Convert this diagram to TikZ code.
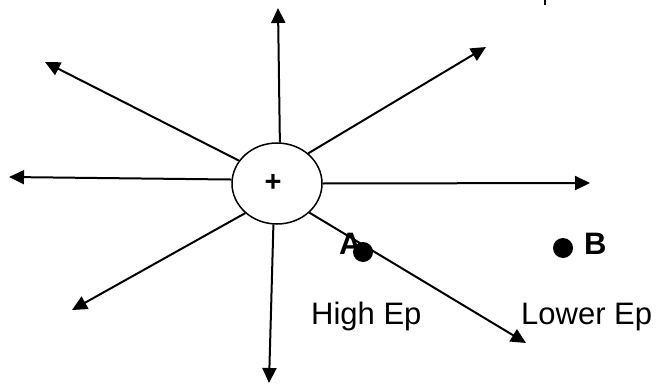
\documentclass[tikz,border=0pt]{standalone}
\usepackage{fontspec}
\setmainfont{Liberation Sans}
\usetikzlibrary{arrows.meta,shapes.geometric}
\tikzset{
  ray/.style={line width=2pt,-{Triangle[length=15pt,width=14pt]}},
  charge/.style={draw,ellipse,line width=1.5pt,minimum width=90pt,minimum height=81pt,inner sep=0pt},
  dot/.style={circle,fill=black,minimum size=20pt,inner sep=0pt},
  lbl/.style={inner sep=0pt,anchor=base west,font=\fontsize{31}{36}\selectfont},
  blbl/.style={lbl,font=\fontsize{31}{36}\selectfont\bfseries},
}
\begin{document}
\begin{tikzpicture}[x=1pt,y=-1pt]
\useasboundingbox (0,0) rectangle (660,385);
\node[charge] (q) at (277,183.5) {};
\node[inner sep=0pt,font=\fontsize{29}{34}\selectfont\bfseries] (plus) at (273,183) {+};
% tips
\coordinate (tU) at (278,8);
\coordinate (tUL) at (45,62);
\coordinate (tL) at (9,177);
\coordinate (tDL) at (72,310);
\coordinate (tD) at (269,383);
\coordinate (tDR) at (526,343);
\coordinate (tR) at (590,183);
\coordinate (tUR) at (486,47);
% labels
\node[blbl] (la) at (339,254) {A};
\node[blbl] (lb) at (584,254) {B};
\node[lbl] (hi) at (311,324) {High Ep};
\node[lbl] (lo) at (521,324) {Lower Ep};
\node[dot] (A) at (363,252) {};
\node[dot] (B) at (563,248) {};
% rays
\draw[ray] (q.86) -- (tU);
\draw[ray] (q.149.6) -- (tUL);
\draw[ray] (q.175.5) -- (tL);
\draw[ray] (q.223.7) -- (tDL);
\draw[ray] (q.265.7) -- (tD);
\draw[ray] (q.-42) -- (tDR);
\draw[ray] (q.0) -- (tR);
\draw[ray] (q.44.5) -- (tUR);
% fragment at top edge
\coordinate (f1) at (545,0);
\coordinate (f2) at (545,5);
\draw[line width=1.6pt] (f1) -- (f2);
\end{tikzpicture}
\end{document}
